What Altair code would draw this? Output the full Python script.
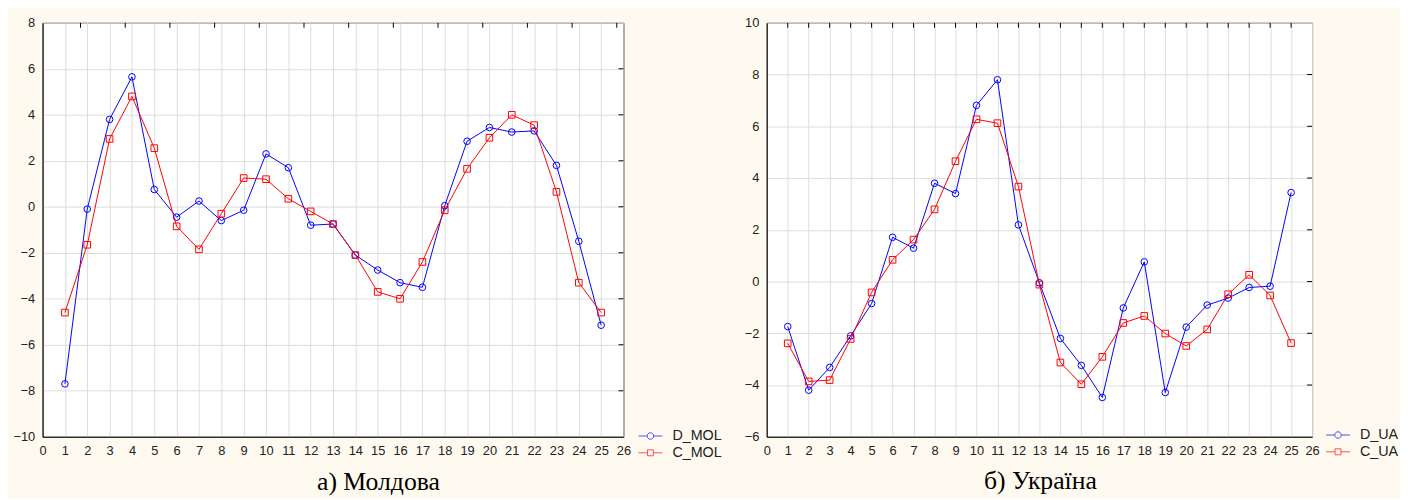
import altair as alt
import pandas as pd

x_vals = list(range(1, 26))

d_mol = [-7.7, -0.1, 3.8, 5.65, 0.75, -0.45, 0.25, -0.6, -0.15, 2.3, 1.7, -0.8, -0.75,
         -2.1, -2.75, -3.3, -3.5, 0.05, 2.85, 3.45, 3.25, 3.3, 1.8, -1.5, -5.15]
c_mol = [-4.6, -1.65, 2.95, 4.8, 2.55, -0.85, -1.85, -0.3, 1.25, 1.2, 0.35, -0.2, -0.75,
         -2.1, -3.7, -4.0, -2.4, -0.15, 1.65, 3.0, 4.0, 3.55, 0.65, -3.3, -4.6]
d_ua = [-1.74, -4.2, -3.32, -2.1, -0.85, 1.71, 1.29, 3.8, 3.4, 6.81, 7.8, 2.19, -0.05,
        -2.2, -3.24, -4.48, -1.02, 0.76, -4.29, -1.76, -0.91, -0.64, -0.23, -0.18, 3.44]
c_ua = [-2.39, -3.86, -3.81, -2.22, -0.42, 0.84, 1.62, 2.79, 4.65, 6.27, 6.12, 3.67, -0.12,
        -3.13, -3.97, -2.91, -1.6, -1.33, -2.01, -2.49, -1.85, -0.49, 0.26, -0.54, -2.38]

x_ticks = list(range(0, 27))
top_ticks_mol = [1.7 + 2 * k for k in range(13)]
top_ticks_ua = list(range(1, 26))
y_ticks_mol = list(range(-10, 9, 2))
y_ticks_ua = list(range(-6, 11, 2))

CREAM = "#fffaf0"
BLUE = "#0000ff"
RED = "#ff0000"
GRID = "#dcdcdc"
FONT = "Liberation Sans"

CIRCLE_LEG = "M-2,0H-0.55M0.55,0H2M-0.55,0A0.55,0.55 0 1,1 0.55,0A0.55,0.55 0 1,1 -0.55,0Z"
SQUARE_LEG = "M-2,0H-0.5M0.5,0H2M-0.5,-0.5H0.5V0.5H-0.5Z"


def panel(d_vals, c_vals, d_name, c_name, ydom, yticks, top_ticks, width, height,
          caption, cap_dx, leg_x, leg_y):
    df = pd.DataFrame({"x": x_vals, "D": d_vals, "C": c_vals})
    long_df = pd.DataFrame({
        "x": x_vals + x_vals,
        "v": d_vals + c_vals,
        "series": [d_name] * len(x_vals) + [c_name] * len(x_vals),
    })
    top_df = pd.DataFrame({"t": top_ticks})
    right_df = pd.DataFrame({"t": yticks[1:-1]})
    xs = alt.Scale(domain=[0, 26], nice=False, zero=False)
    ys = alt.Scale(domain=ydom, nice=False, zero=False)
    xax = alt.Axis(values=x_ticks, grid=True, gridColor=GRID, gridWidth=1, ticks=False,
                   labelPadding=8, domainColor="black", domainWidth=1, title=None,
                   labelFont=FONT, labelFontSize=13, labelColor="#222", labelAngle=0,
                   labelOverlap=False, labelFlush=False)
    yax = alt.Axis(values=yticks, grid=True, gridColor=GRID, gridWidth=1, ticks=False,
                   labelPadding=8, domainColor="black", domainWidth=1, title=None,
                   labelFont=FONT, labelFontSize=13, labelColor="#222",
                   labelOverlap=False, labelFlush=False)

    def X(f):
        return alt.X(f, scale=xs, axis=xax, title=None)

    def Y(f):
        return alt.Y(f, scale=ys, axis=yax, title=None)

    base = alt.Chart(df)
    d_line = base.mark_line(color=BLUE, strokeWidth=1).encode(x=X("x:Q"), y=Y("D:Q"))
    d_pts = base.mark_point(shape="circle", color=BLUE, size=45, filled=False,
                            strokeWidth=1, opacity=1).encode(x=X("x:Q"), y=Y("D:Q"))
    c_line = base.mark_line(color=RED, strokeWidth=1).encode(x=X("x:Q"), y=Y("C:Q"))
    c_pts = base.mark_point(shape="square", color=RED, size=45, filled=False,
                            strokeWidth=1, opacity=1).encode(x=X("x:Q"), y=Y("C:Q"))
    top_t = alt.Chart(top_df).mark_rule(color="black", strokeWidth=1).encode(
        x=X("t:Q"), y=alt.value(0), y2=alt.value(5))
    right_t = alt.Chart(right_df).mark_rule(color="black", strokeWidth=1).encode(
        y=Y("t:Q"), x=alt.value(width - 5), x2=alt.value(width))
    leg = alt.Chart(long_df).transform_filter("false").mark_point(
        filled=False, strokeWidth=1).encode(
        x=X("x:Q"),
        y=Y("v:Q"),
        color=alt.Color("series:N",
                        scale=alt.Scale(domain=[d_name, c_name], range=[BLUE, RED]),
                        legend=alt.Legend(orient="none", legendX=leg_x, legendY=leg_y,
                                          title=None)),
        shape=alt.Shape("series:N",
                        scale=alt.Scale(domain=[d_name, c_name],
                                        range=[CIRCLE_LEG, SQUARE_LEG]),
                        legend=alt.Legend(orient="none", legendX=leg_x, legendY=leg_y,
                                          title=None)),
    )
    return alt.layer(d_line, c_line, d_pts, c_pts, top_t, right_t, leg).properties(
        width=width, height=height,
        title=alt.TitleParams(caption, orient="bottom", anchor="middle", frame="group",
                              font="Liberation Serif", fontSize=26, fontWeight="normal",
                              color="black", offset=10, dx=cap_dx))


left = panel(d_mol, c_mol, "D_MOL", "C_MOL", [-10, 8], y_ticks_mol, top_ticks_mol,
             588, 419, "а) Молдова", 46, 608, 411)
right = panel(d_ua, c_ua, "D_UA", "C_UA", [-6, 10], y_ticks_ua, top_ticks_ua,
              552, 419, "б) Україна", 1, 571, 410)

chart = alt.hconcat(left, right, spacing=20).resolve_scale(
    color="independent", shape="independent", x="independent", y="independent"
).resolve_legend(
    color="independent", shape="independent"
).properties(
    background=CREAM,
    padding={"left": 4, "top": 5, "right": 0, "bottom": 0},
).configure_view(
    stroke="black", strokeWidth=1, fill="white"
).configure_legend(
    labelFont=FONT, labelFontSize=14.5, labelColor="#222", symbolSize=144,
    labelOffset=15, rowPadding=2, symbolStrokeWidth=1, padding=0,
    symbolFillColor="transparent"
)

chart.save("out.html", embed_options={"renderer": "svg", "actions": False})
